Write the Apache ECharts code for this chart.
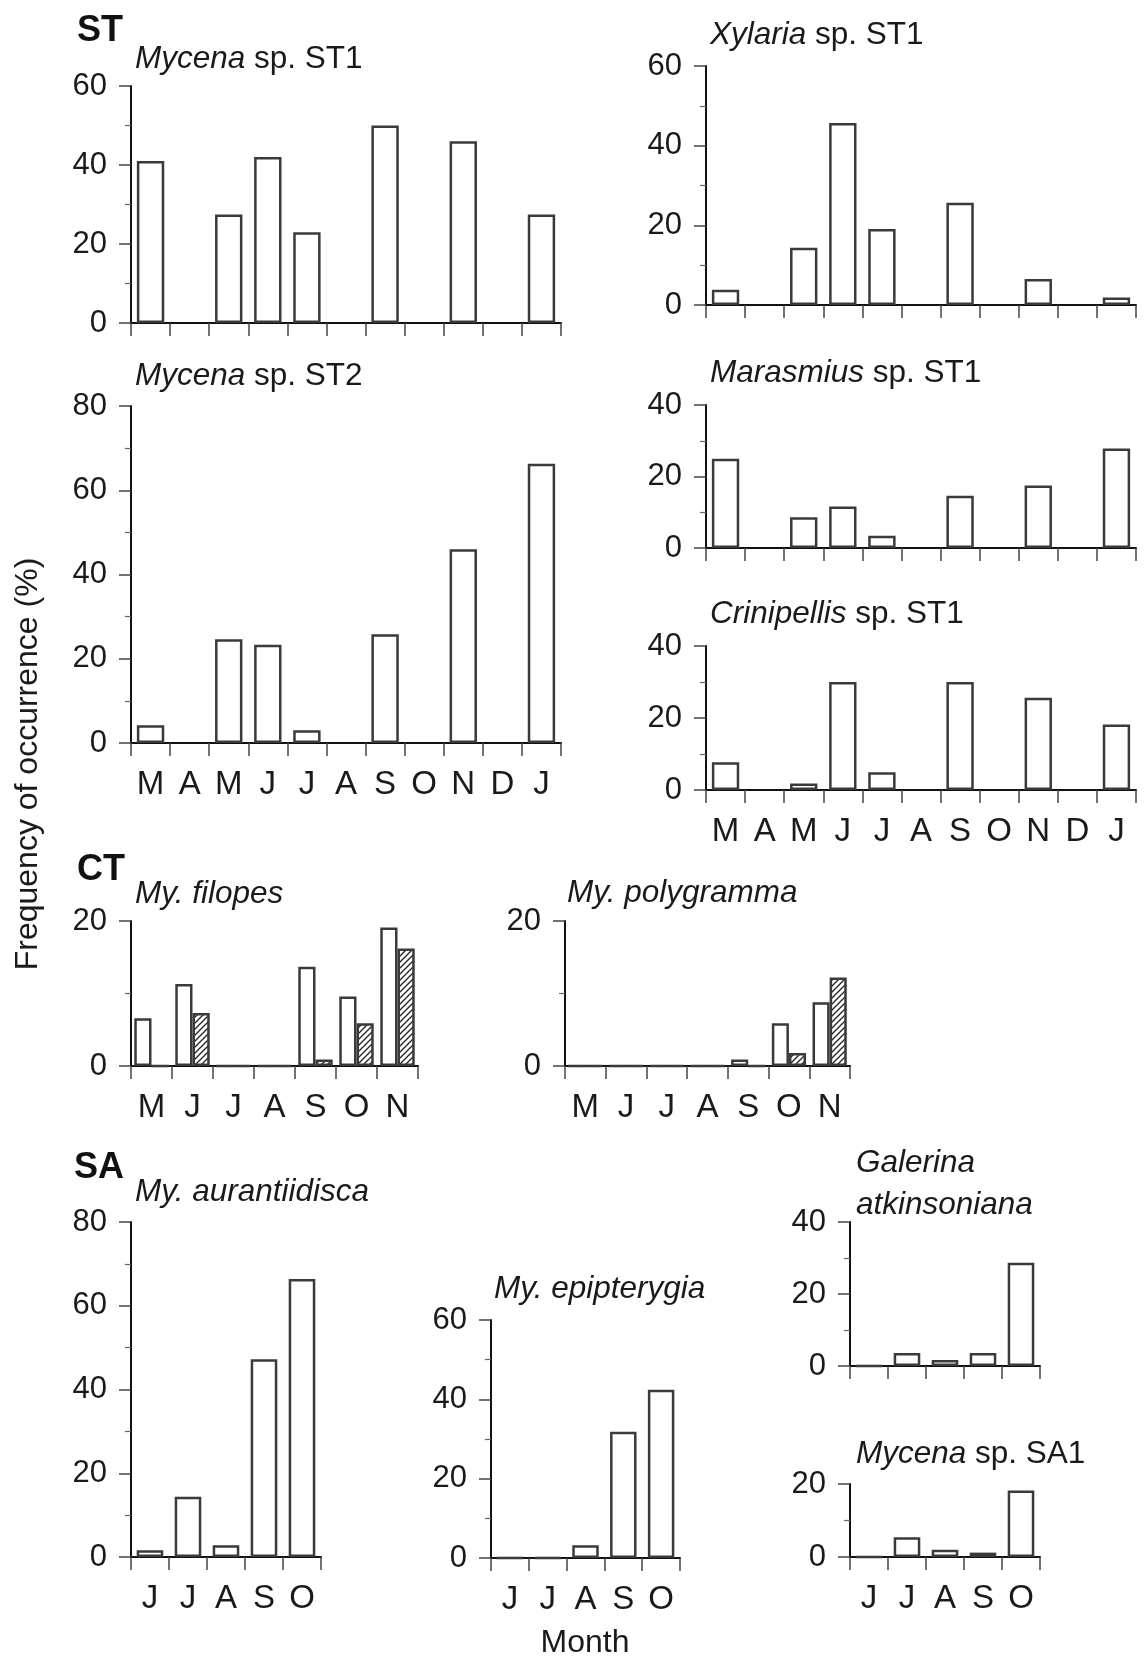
<!DOCTYPE html>
<html>
<head>
<meta charset="utf-8">
<script src="https://cdn.jsdelivr.net/npm/echarts@6/dist/echarts.min.js"></script>
<style>
html,body{margin:0;padding:0;background:#fff;}
#chart{width:1144px;height:1657px;}
</style>
</head>
<body>
<div id="chart"></div>
<script>
// ---- data ----
const months11 = ['M','A','M','J','J','A','S','O','N','D','J'];
const months7 = ['M','J','J','A','S','O','N'];
const months5 = ['J','J','A','S','O'];

const mycenaST1 = [41, null, 27.5, 42, 23, null, 50, null, 46, null, 27.5];
const mycenaST2 = [4.2, null, 24.6, 23.3, 3, null, 25.8, null, 46, null, 66.3];
const xylariaST1 = [3.8, null, 14.4, 45.7, 19.1, null, 25.7, null, 6.5, null, 1.9];
const marasmiusST1 = [25, null, 8.6, 11.6, 3.4, null, 14.6, null, 17.5, null, 27.8];
const crinipellisST1 = [7.7, null, 1.8, 30, 4.9, null, 30, null, 25.6, null, 18.2];
const filopesOpen = [6.6, 11.3, 0, 0, 13.7, 9.6, 19.1];
const filopesHatched = [0, 7.3, 0, 0, 0.9, 5.9, 16.2];
const polygrammaOpen = [0, 0, 0, 0, 0.9, 5.9, 8.8];
const polygrammaHatched = [0, 0, 0, 0, 0, 1.8, 12.2];
const aurantiidisca = [1.6, 14.4, 2.8, 47.2, 66.4];
const epipterygia = [0, 0, 3.2, 31.8, 42.4];
const galerina = [0, 3.6, 1.7, 3.6, 28.7];
const mycenaSA1 = [0, 5.4, 2.0, 1.2, 18.2];

// ---- styles ----
const FONT = "'Liberation Sans', Arial, Helvetica, sans-serif";
const TXT = '#1a1a1a';

const hatch = document.createElement('canvas');
hatch.width = 6; hatch.height = 6;
(function(){
  const c = hatch.getContext('2d');
  c.fillStyle = '#fff'; c.fillRect(0,0,6,6);
  c.strokeStyle = '#222'; c.lineWidth = 1.3;
  c.beginPath();
  c.moveTo(0,6); c.lineTo(6,0);
  c.moveTo(-1,1); c.lineTo(1,-1);
  c.moveTo(5,7); c.lineTo(7,5);
  c.stroke();
})();

const panels = [
  {left:131, top:86,   width:430, height:237, cats:months11, max:60, labels:false, series:[mycenaST1]},
  {left:131, top:406,  width:430, height:337, cats:months11, max:80, labels:true,  series:[mycenaST2]},
  {left:706, top:66,   width:430, height:239, cats:months11, max:60, labels:false, series:[xylariaST1]},
  {left:706, top:405,  width:430, height:143, cats:months11, max:40, labels:false, series:[marasmiusST1]},
  {left:706, top:646,  width:430, height:144, cats:months11, max:40, labels:true,  series:[crinipellisST1]},
  {left:131, top:921,  width:287, height:145, cats:months7,  max:20, labels:true,  series:[filopesOpen, filopesHatched]},
  {left:565, top:921,  width:285, height:145, cats:months7,  max:20, labels:true,  series:[polygrammaOpen, polygrammaHatched]},
  {left:131, top:1222, width:190, height:335, cats:months5,  max:80, labels:true,  series:[aurantiidisca]},
  {left:491, top:1320, width:189, height:238, cats:months5,  max:60, labels:true,  series:[epipterygia]},
  {left:850, top:1222, width:190, height:144, cats:months5,  max:40, labels:false, series:[galerina]},
  {left:850, top:1484, width:190, height:73,  cats:months5,  max:20, labels:true,  series:[mycenaSA1]}
];

const grids = [], xAxes = [], yAxes = [], series = [];
panels.forEach((p, i) => {
  grids.push({left:p.left, top:p.top, width:p.width, height:p.height, containLabel:false});
  xAxes.push({
    type:'category', gridIndex:i, data:p.cats, boundaryGap:true,
    axisLine:{show:true, lineStyle:{color:'#111', width:2}},
    axisTick:{show:true, length:13, lineStyle:{color:'#444', width:1.5}},
    axisLabel:{show:p.labels, interval:0, margin:25, fontSize:33, color:TXT, fontFamily:FONT},
    splitLine:{show:false}
  });
  yAxes.push({
    type:'value', gridIndex:i, min:0, max:p.max, interval:20,
    axisLine:{show:true, lineStyle:{color:'#111', width:2}},
    axisTick:{show:true, length:12, lineStyle:{color:'#444', width:1.5}},
    minorTick:{show:true, splitNumber:2, length:6, lineStyle:{color:'#666', width:1.2}},
    axisLabel:{show:true, margin:24, fontSize:31, color:TXT, fontFamily:FONT},
    splitLine:{show:false}, minorSplitLine:{show:false}
  });
  const two = p.series.length === 2;
  p.series.forEach((d, k) => {
    const s = {
      type:'bar', xAxisIndex:i, yAxisIndex:i, data:d,
      itemStyle:{color: k === 1 ? {image: hatch, repeat:'repeat'} : '#fff', borderColor:'#3a3a3a', borderWidth:2.5},
      emphasis:{disabled:true}, silent:true
    };
    if (two) { s.barGap = '0%'; s.barCategoryGap = '16%'; }
    else { s.barWidth = '70%'; }
    series.push(s);
  });
});

function ttl(text, left, top) {
  return {
    text, left, top, padding:0,
    textStyle:{fontSize:31.5, fontWeight:'normal', color:TXT, fontFamily:FONT,
      rich:{
        i:{fontStyle:'italic', fontSize:31.5, color:TXT, fontFamily:FONT, lineHeight:42},
        n:{fontSize:31.5, color:TXT, fontFamily:FONT, lineHeight:42}
      }}
  };
}
const titles = [
  ttl('{i|Mycena}{n| sp. ST1}', 135, 38),
  ttl('{i|Mycena}{n| sp. ST2}', 135, 355),
  ttl('{i|Xylaria}{n| sp. ST1}', 710, 14),
  ttl('{i|Marasmius}{n| sp. ST1}', 710, 352),
  ttl('{i|Crinipellis}{n| sp. ST1}', 710, 593),
  ttl('{i|My. filopes}', 135, 873),
  ttl('{i|My. polygramma}', 567, 872),
  ttl('{i|My. aurantiidisca}', 135, 1171),
  ttl('{i|My. epipterygia}', 494, 1268),
  ttl('{i|Galerina}\n{i|atkinsoniana}', 856, 1142),
  ttl('{i|Mycena}{n| sp. SA1}', 856, 1433)
];

function bold(text, x, y) {
  return {type:'text', left:x, top:y, style:{text, fontSize:36, fontWeight:'bold', fill:'#111', fontFamily:FONT}};
}

const option = {
  animation:false,
  backgroundColor:'#fff',
  title: titles,
  grid: grids,
  xAxis: xAxes,
  yAxis: yAxes,
  series: series,
  graphic: [
    bold('ST', 77, 13),
    bold('CT', 77, 852),
    bold('SA', 74, 1150),
    {type:'text', x:28, y:764, rotation:Math.PI/2,
      style:{text:'Frequency of occurrence (%)', fontSize:32, fill:TXT, fontFamily:FONT, align:'center', verticalAlign:'middle'}},
    {type:'text', x:585, y:1643,
      style:{text:'Month', fontSize:32, fill:TXT, fontFamily:FONT, align:'center', verticalAlign:'middle'}}
  ]
};

const chart = echarts.init(document.getElementById('chart'), null, {renderer:'canvas'});
chart.setOption(option);
</script>
</body>
</html>
